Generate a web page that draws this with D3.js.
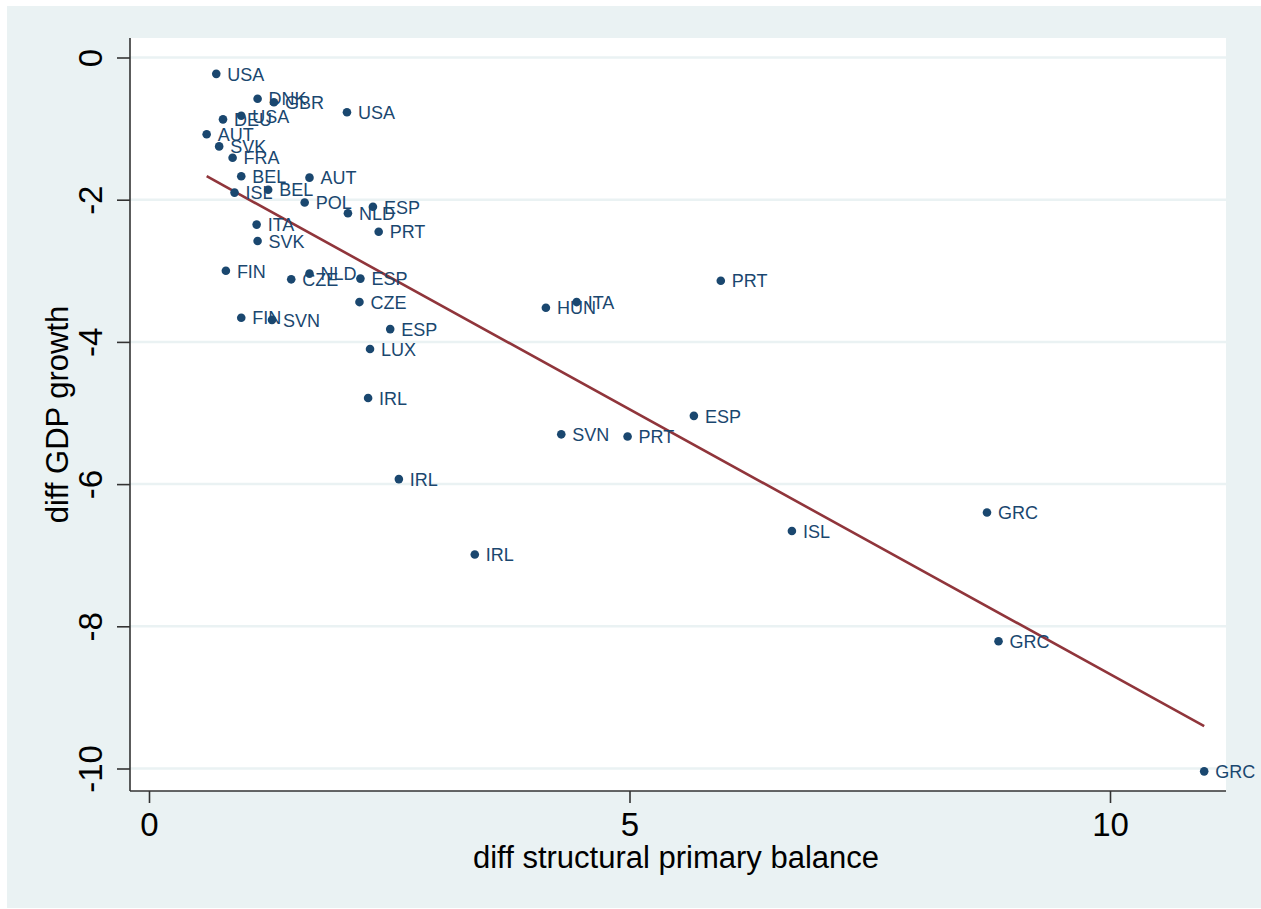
<!DOCTYPE html>
<html>
<head>
<meta charset="utf-8">
<script src="https://cdnjs.cloudflare.com/ajax/libs/d3/7.8.5/d3.min.js"></script>
<style>
    body { margin: 0; background: #ffffff; }
    text { font-family: "Liberation Sans", Arial, sans-serif; }
</style>
</head>
<body>
<div id="chart-area"></div>
<script>

// Data
let countries = ["USA", "DNK", "GBR", "USA", "DEU", "USA", "AUT", "SVK", "FRA", "BEL",
    "AUT", "ISL", "BEL", "POL", "NLD", "ESP", "PRT", "ITA", "SVK", "FIN",
    "CZE", "NLD", "ESP", "CZE", "FIN", "SVN", "ESP", "LUX", "IRL", "HUN",
    "ITA", "PRT", "ESP", "SVN", "PRT", "IRL", "IRL", "GRC", "ISL", "GRC", "GRC"];

let balance = [0.70, 1.13, 1.30, 2.06, 0.77, 0.96, 0.60, 0.73, 0.87, 0.96,
    1.67, 0.89, 1.24, 1.62, 2.07, 2.33, 2.39, 1.12, 1.13, 0.80,
    1.48, 1.67, 2.20, 2.19, 0.96, 1.28, 2.51, 2.30, 2.28, 4.13,
    4.45, 5.95, 5.67, 4.29, 4.98, 2.60, 3.39, 8.72, 6.69, 8.84, 10.98];

let growth = [-0.23, -0.58, -0.63, -0.77, -0.87, -0.82, -1.08, -1.25, -1.41, -1.67,
    -1.69, -1.90, -1.86, -2.04, -2.19, -2.10, -2.45, -2.35, -2.58, -3.00,
    -3.12, -3.04, -3.11, -3.44, -3.66, -3.69, -3.82, -4.10, -4.79, -3.52,
    -3.44, -3.14, -5.04, -5.30, -5.33, -5.93, -6.99, -6.40, -6.66, -8.21, -10.04];

let xTicks = [0, 5, 10];
let yTicks = [0, -2, -4, -6, -8, -10];

let data = countries.map((c, i) => ({ name: c, x: balance[i], y: growth[i] }));

// SVG drawing area
let W = 1261, H = 909;
let plot = { left: 130, top: 38, right: 1226, bottom: 791 };

let svg = d3.select("#chart-area").append("svg")
    .attr("width", W)
    .attr("height", H);

// outer graph region
svg.append("rect")
    .attr("x", 7).attr("y", 6)
    .attr("width", W - 7).attr("height", H - 7)
    .attr("fill", "#eaf2f3");

// plot region
svg.append("rect")
    .attr("x", plot.left).attr("y", plot.top)
    .attr("width", plot.right - plot.left)
    .attr("height", plot.bottom - plot.top)
    .attr("fill", "#ffffff");

// Scales
let x = d3.scaleLinear().domain([0, 10]).range([149, 1110]);
let y = d3.scaleLinear().domain([0, -10]).range([57.5, 768.5]);

// gridlines
svg.append("g").selectAll("line")
    .data(yTicks)
    .enter().append("line")
    .attr("x1", plot.left).attr("x2", plot.right)
    .attr("y1", d => y(d)).attr("y2", d => y(d))
    .attr("stroke", "#eaf2f3")
    .attr("stroke-width", 2.5);

// Axes
let xAxis = d3.axisBottom(x)
    .tickValues(xTicks)
    .tickFormat(d => String(d))
    .tickSize(12)
    .tickPadding(10);

let yAxis = d3.axisLeft(y)
    .tickValues(yTicks)
    .tickFormat(d => String(d))
    .tickSize(13)
    .tickPadding(0);

let xAxisGroup = svg.append("g")
    .attr("class", "x-axis axis")
    .attr("transform", "translate(0," + plot.bottom + ")")
    .call(xAxis);

let yAxisGroup = svg.append("g")
    .attr("class", "y-axis axis")
    .attr("transform", "translate(" + plot.left + ",0)")
    .call(yAxis);

// domain lines only over the plot region
xAxisGroup.select(".domain")
    .attr("d", "M" + plot.left + ",0H" + plot.right);
yAxisGroup.select(".domain")
    .attr("d", "M0," + plot.top + "V" + plot.bottom);

svg.selectAll(".axis path, .axis line")
    .attr("stroke", "#333333")
    .attr("stroke-width", 1.6);

xAxisGroup.selectAll("text")
    .attr("fill", "#000000")
    .attr("font-size", 33)
    .attr("font-family", "Liberation Sans, Arial, sans-serif");

yAxisGroup.selectAll("text")
    .attr("fill", "#000000")
    .attr("font-size", 33)
    .attr("font-family", "Liberation Sans, Arial, sans-serif")
    .attr("text-anchor", "middle")
    .attr("dy", 0)
    .attr("x", 0)
    .attr("transform", "translate(-28,0) rotate(-90)");

// axis titles
svg.append("text")
    .attr("x", (plot.left + plot.right) / 2 - 2)
    .attr("y", 868)
    .attr("text-anchor", "middle")
    .attr("font-size", 31)
    .attr("fill", "#000000")
    .text("diff structural primary balance");

svg.append("text")
    .attr("transform", "translate(68," + ((plot.top + plot.bottom) / 2) + ") rotate(-90)")
    .attr("text-anchor", "middle")
    .attr("font-size", 31)
    .attr("fill", "#000000")
    .text("diff GDP growth");

// linear fit
let n = data.length;
let mx = d3.mean(data, d => d.x), my = d3.mean(data, d => d.y);
let slope = d3.sum(data, d => (d.x - mx) * (d.y - my)) / d3.sum(data, d => (d.x - mx) * (d.x - mx));
let icpt = my - slope * mx;
let ext = d3.extent(data, d => d.x);

svg.append("path")
    .datum(ext)
    .attr("fill", "none")
    .attr("stroke", "#90353b")
    .attr("stroke-width", 2.6)
    .attr("d", d3.line()
        .x(d => x(d))
        .y(d => y(icpt + slope * d)));

// points
svg.append("g").selectAll("circle")
    .data(data)
    .enter().append("circle")
    .attr("cx", d => x(d.x))
    .attr("cy", d => y(d.y))
    .attr("r", 4.3)
    .attr("fill", "#1a476f");

// labels
svg.append("g").selectAll("text")
    .data(data)
    .enter().append("text")
    .attr("x", d => x(d.x) + 11)
    .attr("y", d => y(d.y) + 6.7)
    .attr("font-size", 18)
    .attr("fill", "#1a476f")
    .text(d => d.name);

</script>
</body>
</html>
